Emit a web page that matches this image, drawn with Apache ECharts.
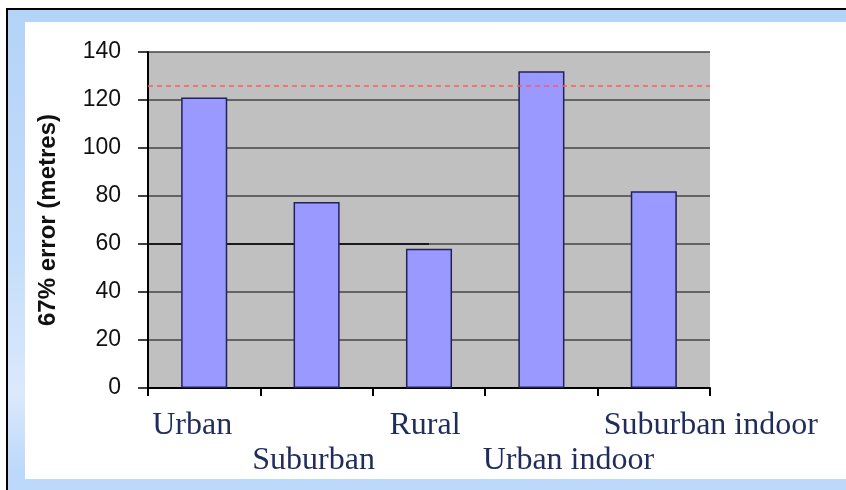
<!DOCTYPE html>
<html>
<head>
<meta charset="utf-8">
<script src="https://cdn.jsdelivr.net/npm/echarts@6/dist/echarts.min.js"></script>
<style>
  html, body { margin: 0; padding: 0; width: 846px; height: 490px; overflow: hidden; background: #ffffff; }
  #frame { position: absolute; left: 6px; top: 8px; width: 840px; height: 482px;
           border-top: 2px solid #000; border-left: 2px solid #000; box-sizing: border-box;
           background: linear-gradient(to bottom, #b3d3f8 0%, #c4ddfa 50%, #dbe9fc 80%, #bcd8fa 96%); }
  #chart { position: absolute; left: 25px; top: 22px; width: 821px; height: 457px; background: #ffffff; }
</style>
</head>
<body>
<div id="frame"></div>
<div id="chart"></div>
<script>
// ---- data ----
const categories = ['Urban', 'Suburban', 'Rural', 'Urban indoor', 'Suburban indoor'];
const errorValues = [121, 77.5, 58, 132, 82];
const yTicks = { min: 0, max: 140, interval: 20 };
const referenceLevel = 126;          // red dashed line
const darkSegment = [[0, 60], [2.5, 60]]; // darker line at 60 from axis to Rural

const chart = echarts.init(document.getElementById('chart'), null, { renderer: 'canvas' });

const labelColor = '#1f2c5c';
const serif = 'Liberation Serif';
function rs(pad) {
  return { fontFamily: serif, fontSize: 32, lineHeight: 34, color: labelColor, padding: pad };
}

const option = {
  animation: false,
  grid: {
    left: 123, top: 30, width: 562, height: 336,
    show: true, backgroundColor: '#c0c0c0', borderWidth: 0
  },
  xAxis: [{
    type: 'category',
    data: categories,
    boundaryGap: true,
    axisLine: { show: true, lineStyle: { color: '#000', width: 2 } },
    axisTick: { show: true, alignWithLabel: false, length: 8, inside: false, lineStyle: { color: '#000', width: 2 } },
    splitLine: { show: false },
    axisLabel: {
      interval: 0,
      margin: 21,
      hideOverlap: false,
      formatter: function (v, i) { return '{c' + i + '|' + v + '}'; },
      rich: {
        c0: rs([0, 24, 0, 0]),
        c1: rs([70, 6, 0, 0]),
        c2: rs([0, 8, 0, 0]),
        c3: rs([70, 0, 0, 54]),
        c4: rs([0, 0, 0, 114])
      }
    }
  }, {
    type: 'value', min: 0, max: categories.length, show: false
  }],
  yAxis: {
    type: 'value',
    min: yTicks.min, max: yTicks.max, interval: yTicks.interval,
    name: '67% error (metres)',
    nameLocation: 'middle',
    nameRotate: 90,
    nameGap: 88,
    nameTextStyle: { fontFamily: 'Liberation Sans', fontSize: 24, fontWeight: 'bold', color: '#111' },
    axisLine: { show: true, lineStyle: { color: '#000', width: 2 } },
    axisTick: { show: true, length: 10, lineStyle: { color: '#000', width: 1.5 } },
    axisLabel: { margin: 27, fontFamily: 'Liberation Sans', fontSize: 23, color: '#111' },
    splitLine: { show: true, lineStyle: { color: '#454545', width: 1.5 } }
  },
  series: [{
    type: 'line',
    xAxisIndex: 1,
    data: darkSegment,
    symbol: 'none',
    z: 1,
    silent: true,
    lineStyle: { color: '#1a1a1a', width: 2 },
    markLine: {
      silent: true,
      symbol: 'none',
      label: { show: false },
      lineStyle: { color: '#ff5b5b', type: [5, 4], width: 1.5 },
      data: [{ yAxis: referenceLevel }]
    }
  }, {
    type: 'bar',
    data: errorValues,
    barWidth: '41%',
    z: 3,
    itemStyle: { color: '#9999ff', borderColor: '#22225a', borderWidth: 1.5 }
  }]
};
chart.setOption(option);
</script>
</body>
</html>
